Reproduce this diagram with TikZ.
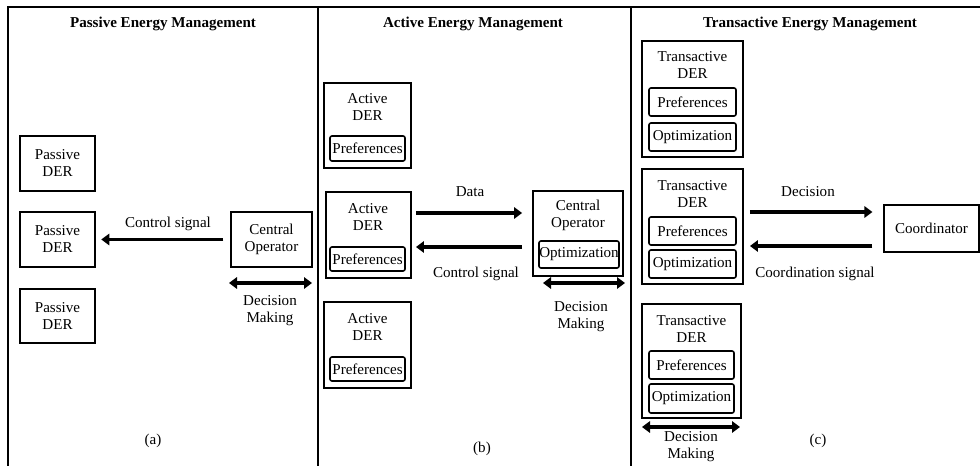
\documentclass[tikz,border=0pt]{standalone}
\usepackage{fontspec}
\setmainfont{Liberation Serif}
\usetikzlibrary{arrows.meta,fit}
\begin{document}
\begin{tikzpicture}[x=0.75pt,y=-0.75pt,
 every node/.style={font=\fontsize{11.3}{12.75}\selectfont},
 box/.style={draw,line width=1.4pt,inner sep=0pt},
 sub/.style={draw,line width=1.2pt,rounded corners=1.5pt,inner sep=0pt},
 lbl/.style={align=center,inner sep=0pt},
 ttl/.style={font=\fontsize{11.3}{12.75}\selectfont\bfseries,inner sep=0pt},
 arr/.style={line width=2.6pt,-{Triangle[length=6pt,width=8.5pt]}},
 darr/.style={line width=2.6pt,{Triangle[length=6pt,width=8.5pt]}-{Triangle[length=6pt,width=8.5pt]}},
 frame/.style={line width=1.5pt}]
\useasboundingbox (0,0) rectangle (980,466);
% frame
\draw[frame] (8,466) -- (8,7) -- (980,7);
\draw[frame] (318,7) -- (318,466);
\draw[frame] (631,7) -- (631,466);
% titles
\node[ttl] (tA) at (163,24) {Passive Energy Management};
\node[ttl] (tB) at (473,24) {Active Energy Management};
\node[ttl] (tC) at (810,24) {Transactive Energy Management};

% ---------- panel a
\node[box,fit={(20,136) (95,191)}] (pd1) {};
\node[lbl] (pd1t) at (pd1.center) {Passive\\DER};
\node[box,fit={(20,212) (95,267)}] (pd2) {};
\node[lbl] (pd2t) at (pd2.center) {Passive\\DER};
\node[box,fit={(20,289) (95,343)}] (pd3) {};
\node[lbl] (pd3t) at (pd3.center) {Passive\\DER};
\node[box,fit={(231,212) (312,267)}] (coA) {};
\node[lbl] (coAt) at (coA.center) {Central\\Operator};
\draw[arr,shorten <=5pt,shorten >=4pt] (coA.west) -- (pd2.east);
\node[lbl] (csA) at (168,224) {Control signal};
\coordinate (dmA1) at (229,283);
\coordinate (dmA2) at (312,283);
\draw[darr] (dmA1) -- (dmA2);
\node[lbl] (dmAl) at (270,311) {Decision\\Making};
\node[lbl] (capA) at (153,441) {(a)};

% ---------- panel b
\node[box,fit={(324,83) (411,168)}] (ad1) {};
\node[lbl] (ad1t) at (367.5,107) {Active\\DER};
\node[sub,fit={(330,136) (405,161)}] (ap1) {};
\node[lbl] (ap1t) at (ap1.center) {Preferences};
\node[box,fit={(326,192) (411,278)}] (ad2) {};
\node[lbl] (ad2t) at (368,217.5) {Active\\DER};
\node[sub,fit={(330,247) (405,271)}] (ap2) {};
\node[lbl] (ap2t) at (ap2.center) {Preferences};
\node[box,fit={(324,302) (411,388)}] (ad3) {};
\node[lbl] (ad3t) at (367.5,327.5) {Active\\DER};
\node[sub,fit={(330,357) (405,381)}] (ap3) {};
\node[lbl] (ap3t) at (ap3.center) {Preferences};
\node[box,fit={(533,191) (623,276)}] (coB) {};
\node[lbl] (coBt) at (578,215.5) {Central\\Operator};
\node[sub,fit={(539,241) (619,268)}] (opB) {};
\node[lbl] (opBt) at (opB.center) {Optimization};
\draw[arr,shorten <=3pt,shorten >=7.5pt] (ad2.east |- 0,213) -- (coB.west |- 0,213);
\draw[arr,shorten <=7.5pt,shorten >=3pt] (coB.west |- 0,247) -- (ad2.east |- 0,247);
\node[lbl] (dataB) at (470,192) {Data};
\node[lbl] (csB) at (476,274) {Control signal};
\coordinate (dmB1) at (543,283);
\coordinate (dmB2) at (625,283);
\draw[darr] (dmB1) -- (dmB2);
\node[lbl] (dmBl) at (581,316.5) {Decision\\Making};
\node[lbl] (capB) at (482,449) {(b)};

% ---------- panel c
\node[box,fit={(642,41) (743,157)}] (td1) {};
\node[lbl] (td1t) at (692.5,65.5) {Transactive\\DER};
\node[sub,fit={(649,88) (736,116)}] (tp1) {};
\node[lbl] (tp1t) at (tp1.center) {Preferences};
\node[sub,fit={(649,123) (736,151)}] (to1) {};
\node[lbl] (to1t) at (to1.center) {Optimization};
\node[box,fit={(642,169) (743,284)}] (td2) {};
\node[lbl] (td2t) at (692.5,194.5) {Transactive\\DER};
\node[sub,fit={(649,217) (736,245)}] (tp2) {};
\node[lbl] (tp2t) at (tp2.center) {Preferences};
\node[sub,fit={(649,250) (736,278)}] (to2) {};
\node[lbl] (to2t) at (to2.center) {Optimization};
\node[box,fit={(642,304) (741,418)}] (td3) {};
\node[lbl] (td3t) at (691.5,329.5) {Transactive\\DER};
\node[sub,fit={(649,351) (734,379)}] (tp3) {};
\node[lbl] (tp3t) at (tp3.center) {Preferences};
\node[sub,fit={(649,384) (734,413)}] (to3) {};
\node[lbl] (to3t) at (to3.center) {Optimization};
\node[box,fit={(884,205) (979,252)}] (crd) {};
\node[lbl] (crdt) at (crd.center) {Coordinator};
\draw[arr,shorten <=4.5pt,shorten >=8pt] (td2.east |- 0,212) -- (crd.west |- 0,212);
\draw[arr,shorten <=8pt,shorten >=4.5pt] (crd.west |- 0,246) -- (td2.east |- 0,246);
\node[lbl] (decC) at (808,192) {Decision};
\node[lbl] (csC) at (815,274) {Coordination signal};
\coordinate (dmC1) at (642,427);
\coordinate (dmC2) at (740,427);
\draw[darr] (dmC1) -- (dmC2);
\node[lbl] (dmCl) at (691,446.5) {Decision\\Making};
\node[lbl] (capC) at (818,441) {(c)};
\end{tikzpicture}
\end{document}
